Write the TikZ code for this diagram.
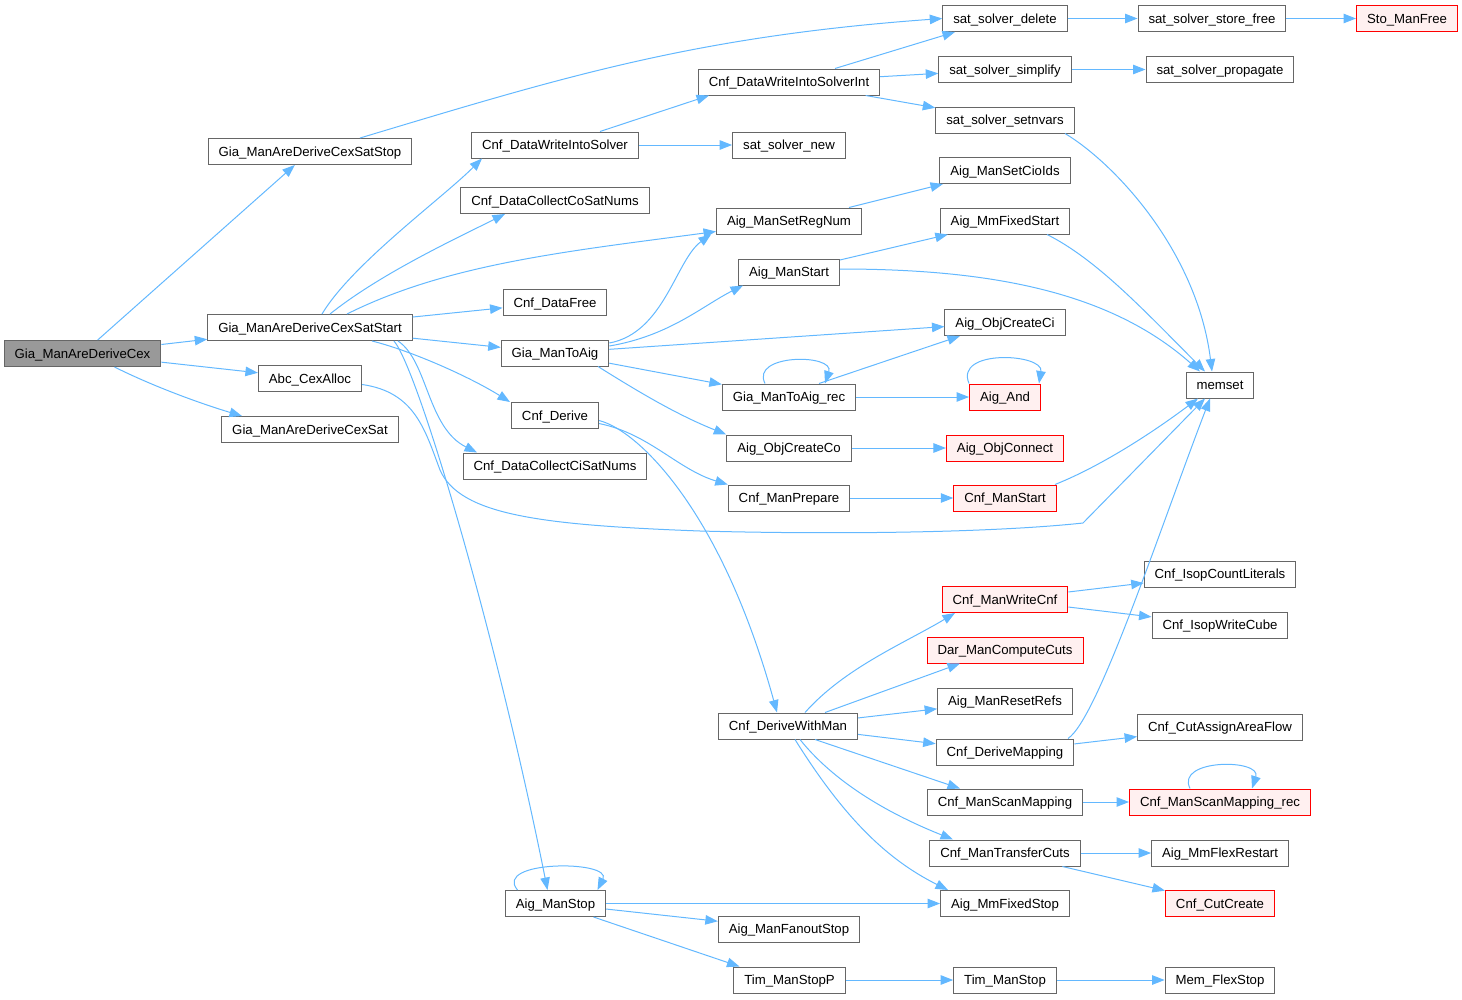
\documentclass[tikz,border=0pt]{standalone}
\usepackage{fontspec}
\setmainfont{Liberation Sans}
\usetikzlibrary{arrows.meta}
\definecolor{edgeblue}{HTML}{63B8FF}
\definecolor{boxgray}{HTML}{666666}
\definecolor{rootfill}{HTML}{999999}
\definecolor{redfill}{HTML}{FFF0F0}
\tikzset{
  func/.style={draw=boxgray, line width=1pt, fill=white, minimum height=26pt,
    inner xsep=10.5pt, inner ysep=0pt, text height=11pt, text depth=1.6pt,
    font=\fontsize{13.2}{15}\selectfont},
  funcroot/.style={func, fill=rootfill},
  funcred/.style={func, draw=red, fill=redfill},
  calls/.style={draw=edgeblue, line width=1pt, -{Triangle[length=12.5pt,width=9.5pt]}}
}
\begin{document}
\begin{tikzpicture}[x=1pt,y=-1pt]
\useasboundingbox (0,0) rectangle (1462,999);
\node[funcroot] (cex) at (82.5,353.5) {Gia\_ManAreDeriveCex};
\node[func] (satstop) at (310,151.5) {Gia\_ManAreDeriveCexSatStop};
\node[func] (satstart) at (310,327.5) {Gia\_ManAreDeriveCexSatStart};
\node[func] (cexalloc) at (310,378.5) {Abc\_CexAlloc};
\node[func] (cexsat) at (310,429.5) {Gia\_ManAreDeriveCexSat};
\node[func] (write) at (555,145) {Cnf\_DataWriteIntoSolver};
\node[func] (collectco) at (555,200.5) {Cnf\_DataCollectCoSatNums};
\node[func] (datafree) at (555,302.5) {Cnf\_DataFree};
\node[func] (toaig) at (555,353) {Gia\_ManToAig};
\node[func] (derive) at (555,415.5) {Cnf\_Derive};
\node[func] (collectci) at (555,466) {Cnf\_DataCollectCiSatNums};
\node[func] (manstop) at (555.5,903.5) {Aig\_ManStop};
\node[func] (writeint) at (789,82) {Cnf\_DataWriteIntoSolverInt};
\node[func] (ssnew) at (789,145) {sat\_solver\_new};
\node[func] (setregnum) at (789,221) {Aig\_ManSetRegNum};
\node[func] (manstart) at (789,272) {Aig\_ManStart};
\node[func] (toaigrec) at (789,397) {Gia\_ManToAig\_rec};
\node[func] (createco) at (789,448) {Aig\_ObjCreateCo};
\node[func] (prepare) at (789,498) {Cnf\_ManPrepare};
\node[func] (derivewithman) at (788,726) {Cnf\_DeriveWithMan};
\node[func] (fanoutstop) at (789,929) {Aig\_ManFanoutStop};
\node[func] (stopP) at (789.5,980) {Tim\_ManStopP};
\node[func] (ssdelete) at (1005,18.5) {sat\_solver\_delete};
\node[func] (sssimplify) at (1005,69.5) {sat\_solver\_simplify};
\node[func] (sssetnvars) at (1005,120) {sat\_solver\_setnvars};
\node[func] (setcioids) at (1005,170.5) {Aig\_ManSetCioIds};
\node[func] (fixedstart) at (1005,221) {Aig\_MmFixedStart};
\node[func] (createci) at (1005,322.5) {Aig\_ObjCreateCi};
\node[funcred] (aigand) at (1005,397) {Aig\_And};
\node[funcred] (objconnect) at (1005,448) {Aig\_ObjConnect};
\node[funcred] (cnfstart) at (1005,498) {Cnf\_ManStart};
\node[funcred] (writecnf) at (1005,599.5) {Cnf\_ManWriteCnf};
\node[funcred] (computecuts) at (1005,650) {Dar\_ManComputeCuts};
\node[func] (resetrefs) at (1005,701) {Aig\_ManResetRefs};
\node[func] (derivemapping) at (1005,752) {Cnf\_DeriveMapping};
\node[func] (scanmapping) at (1005,802) {Cnf\_ManScanMapping};
\node[func] (transfercuts) at (1005,853) {Cnf\_ManTransferCuts};
\node[func] (fixedstop) at (1005,903.5) {Aig\_MmFixedStop};
\node[func] (timstop) at (1005,980) {Tim\_ManStop};
\node[func] (storefree) at (1212,18.5) {sat\_solver\_store\_free};
\node[func] (sspropagate) at (1220,69.5) {sat\_solver\_propagate};
\node[func] (memset) at (1220,385) {memset};
\node[func] (countlit) at (1220,574) {Cnf\_IsopCountLiterals};
\node[func] (writecube) at (1220,625) {Cnf\_IsopWriteCube};
\node[func] (areaflow) at (1220,727) {Cnf\_CutAssignAreaFlow};
\node[funcred] (scanrec) at (1220,802) {Cnf\_ManScanMapping\_rec};
\node[func] (flexrestart) at (1220,853) {Aig\_MmFlexRestart};
\node[funcred] (cutcreate) at (1220,903.5) {Cnf\_CutCreate};
\node[func] (flexstop) at (1220,980) {Mem\_FlexStop};
\node[funcred] (stomanfree) at (1407,18.5) {Sto\_ManFree};

% calls out of the root
\draw[calls] (cex) -- (satstop);
\draw[calls] (cex) -- (satstart);
\draw[calls] (cex) -- (cexalloc);
\draw[calls] ([xshift=32pt]cex.south) .. controls +(40,20) and +(-40,-12) .. ([xshift=-68pt]cexsat.north);
\draw[calls] ([xshift=50pt]satstop.north) .. controls +(200,-60) and +(-250,18) .. (ssdelete.west);
\draw[calls] ([xshift=12pt]satstart.north) .. controls +(30,-50) and +(-40,40) .. ([xshift=-73pt]write.south);
\draw[calls] ([xshift=20pt]satstart.north) .. controls +(50,-40) and +(-50,25) .. ([xshift=-50pt]collectco.south);
\draw[calls] ([xshift=37pt]satstart.north) .. controls +(100,-50) and +(-150,20) .. ([yshift=3pt]setregnum.south west);
\draw[calls] (satstart) -- (datafree);
\draw[calls] (satstart) -- (toaig);
\draw[calls] ([xshift=62pt]satstart.south) .. controls +(40,10) and +(-40,-25) .. ([xshift=-45pt]derive.north);
\draw[calls] ([xshift=88pt]satstart.south) .. controls +(30,20) and +(-50,-25) .. ([xshift=-78pt]collectci.north);
\draw[calls] ([xshift=84pt]satstart.south) .. controls +(25,30) and +(-50,-250) .. ([xshift=-8pt]manstop.north);
\draw[calls] ([yshift=-6pt]cexalloc.east) .. controls (415,392) and (425,430) .. (440,470)
  .. controls (460,515) and (540,525) .. (700,531) .. controls (850,535) and (1000,532) .. (1083,523)
  -- ([xshift=-15pt]memset.south);
% solver
\draw[calls] ([xshift=45pt]write.north) -- ([xshift=-80pt]writeint.south);
\draw[calls] (write) -- (ssnew);
\draw[calls] ([xshift=46pt]writeint.north) -- ([xshift=-50pt]ssdelete.south);
\draw[calls] (writeint) -- (sssimplify);
\draw[calls] (writeint) -- (sssetnvars);
\draw[calls] (ssdelete) -- (storefree);
\draw[calls] (storefree) -- (stomanfree);
\draw[calls] (sssimplify) -- (sspropagate);
\draw[calls] ([xshift=60pt]sssetnvars.south) .. controls +(50,30) and +(-15,-120) .. ([xshift=-8pt]memset.north);
% aig
\draw[calls] ([xshift=60pt]setregnum.north) -- ([xshift=-62pt]setcioids.south);
\draw[calls] (manstart) -- (fixedstart);
\draw[calls] ([yshift=3pt]manstart.east) .. controls +(150,0) and +(-90,-80) .. ([xshift=-20pt]memset.north);
\draw[calls] ([xshift=42pt]fixedstart.south) .. controls +(50,25) and +(-60,-60) .. ([xshift=-15pt]memset.north);
\draw[calls] ([yshift=10pt]toaig.east) .. controls +(55,-10) and +(-35,25) .. ([xshift=-78pt]setregnum.south);
\draw[calls] ([yshift=7pt]toaig.east) .. controls +(60,-10) and +(-40,20) .. ([xshift=5pt]manstart.south west);
\draw[calls] (toaig) -- (createci);
\draw[calls] (toaig) -- (toaigrec);
\draw[calls] ([xshift=43pt]toaig.south) .. controls +(40,25) and +(-50,-20) .. (createco.north west);
\draw[calls] ([xshift=-24pt]toaigrec.north) .. controls +(-15,-30) and +(10,-30) .. ([xshift=36pt]toaigrec.north);
\draw[calls] ([xshift=30pt]toaigrec.north) -- ([xshift=-45pt]createci.south);
\draw[calls] (toaigrec) -- (aigand);
\draw[calls] (aigand.north west) .. controls +(-15,-35) and +(5,-30) .. ([xshift=-2pt]aigand.north east);
\draw[calls] (createco) -- (objconnect);
% cnf
\draw[calls] ([yshift=-8pt]derive.east) .. controls +(50,10) and +(-50,-15) .. (prepare.north west);
\draw[calls] ([yshift=-5pt]derive.east) .. controls +(40,10) and +(-55,-200) .. ([xshift=-11pt]derivewithman.north);
\draw[calls] (prepare) -- (cnfstart);
\draw[calls] ([xshift=50pt]cnfstart.north) .. controls +(50,-20) and +(-40,30) .. ([xshift=-22pt]memset.south);
\draw[calls] (writecnf) -- (countlit);
\draw[calls] (writecnf) -- (writecube);
\draw[calls] ([xshift=17pt]derivewithman.north) .. controls +(40,-45) and +(-50,30) .. ([xshift=-50pt]writecnf.south);
\draw[calls] ([xshift=37pt]derivewithman.north) -- ([xshift=-45pt]computecuts.south);
\draw[calls] (derivewithman) -- (resetrefs);
\draw[calls] (derivewithman) -- (derivemapping);
\draw[calls] (derivemapping) -- (areaflow);
\draw[calls] ([xshift=63pt]derivemapping.north) .. controls +(30,-20) and +(-50,130) .. ([xshift=-10pt]memset.south);
\draw[calls] ([xshift=27pt]derivewithman.south) -- ([xshift=-45pt]scanmapping.north);
\draw[calls] (scanmapping) -- (scanrec);
\draw[calls] ([xshift=-30pt]scanrec.north) .. controls +(-15,-30) and +(10,-30) .. ([xshift=32pt]scanrec.north);
\draw[calls] ([xshift=12pt]derivewithman.south) .. controls +(40,50) and +(-50,-20) .. ([xshift=-52pt]transfercuts.north);
\draw[calls] ([xshift=7pt]derivewithman.south) .. controls +(50,80) and +(-60,-30) .. ([xshift=-57pt]fixedstop.north);
\draw[calls] (transfercuts) -- (flexrestart);
\draw[calls] (transfercuts) -- (cutcreate);
% stop
\draw[calls] ([xshift=-38pt]manstop.north) .. controls +(-25,-30) and +(15,-30) .. ([xshift=42pt]manstop.north);
\draw[calls] (manstop) -- (fixedstop);
\draw[calls] (manstop) -- (fanoutstop);
\draw[calls] ([xshift=38pt]manstop.south) -- ([xshift=-50pt]stopP.north);
\draw[calls] (stopP) -- (timstop);
\draw[calls] (timstop) -- (flexstop);
\end{tikzpicture}
\end{document}
